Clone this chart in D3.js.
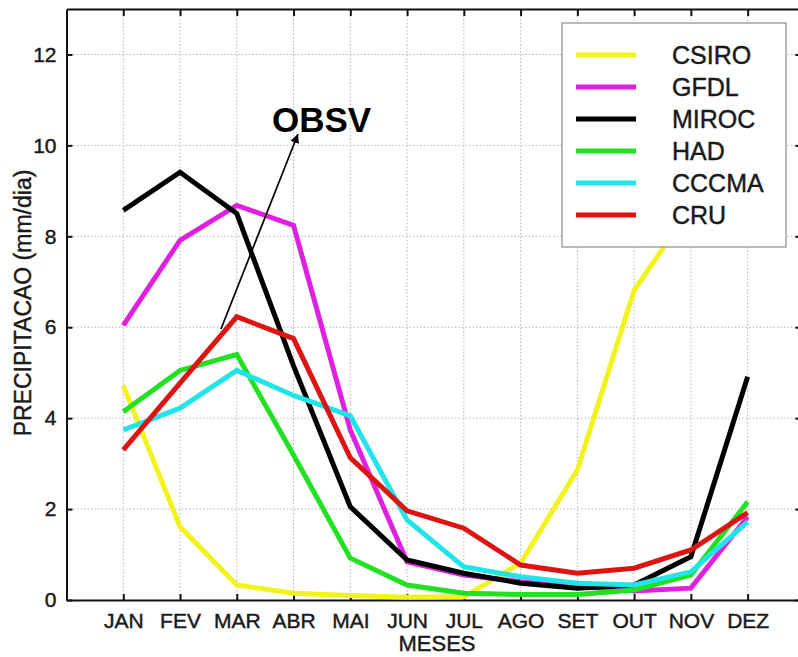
<!DOCTYPE html>
<html>
<head>
<meta charset="utf-8">
<script src="https://cdn.jsdelivr.net/npm/d3@7"></script>
<style>
  html, body { margin: 0; padding: 0; background: #fff; }
  svg { display: block; font-family: "Liberation Sans", Arial, Helvetica, sans-serif; }
  .lbl { fill: #1a1a1a; stroke: #1a1a1a; stroke-width: 0.45px; }
</style>
</head>
<body>
<svg id="chart" width="798" height="657"></svg>
<script>
// Monthly mean precipitation (mm/dia): five climate models and the CRU observations
const months = ["JAN", "FEV", "MAR", "ABR", "MAI", "JUN", "JUL", "AGO", "SET", "OUT", "NOV", "DEZ"];
const yTicks = [0, 2, 4, 6, 8, 10, 12];

const seriesNames = ["CSIRO", "GFDL", "MIROC", "HAD", "CCCMA", "CRU"];
const seriesColors = ["#f2f21c", "#e020e0", "#000000", "#22e022", "#22e4e8", "#dc1414"];

const csiro = [4.72, 1.61, 0.33, 0.15, 0.10, 0.06, 0.07, 0.81, 2.86, 6.81, 8.63, 9.20];
const gfdl  = [6.04, 7.91, 8.68, 8.24, 3.74, 0.84, 0.55, 0.40, 0.30, 0.20, 0.26, 1.83];
const miroc = [8.57, 9.41, 8.50, 5.15, 2.05, 0.88, 0.59, 0.37, 0.26, 0.33, 0.95, 4.91];
const had   = [4.14, 5.05, 5.40, 3.19, 0.92, 0.33, 0.15, 0.12, 0.12, 0.22, 0.55, 2.16];
const cccma = [3.74, 4.22, 5.05, 4.50, 4.05, 1.76, 0.73, 0.51, 0.37, 0.33, 0.62, 1.72];
const cru   = [3.30, 4.77, 6.23, 5.75, 3.13, 1.96, 1.58, 0.77, 0.59, 0.70, 1.10, 1.92];

const seriesValues = [csiro, gfdl, miroc, had, cccma, cru];

const svg = d3.select("#chart");

const x = d3.scaleLinear().domain([0, 13]).range([66.5, 804.4]);
const y = d3.scaleLinear().domain([0, 13]).range([600, 9]);

const monthPos = months.map((m, i) => i + 1);

// dotted grid
const grid = svg.append("g").attr("stroke", "#b5b5b5").attr("stroke-width", 1)
  .attr("stroke-dasharray", "1.5,2");
grid.selectAll("line.gx").data(monthPos).join("line")
  .attr("x1", d => x(d)).attr("x2", d => x(d))
  .attr("y1", y(13)).attr("y2", y(0));
grid.selectAll("line.gy").data(yTicks.filter(v => v > 0)).join("line")
  .attr("x1", x(0)).attr("x2", x(13))
  .attr("y1", d => y(d)).attr("y2", d => y(d));

// frame with inward ticks on all four sides
const xAxisB = d3.axisBottom(x).tickValues(monthPos).tickSizeInner(-6).tickSizeOuter(0)
  .tickFormat(d => months[d - 1]).tickPadding(13);
const xAxisT = d3.axisTop(x).tickValues(monthPos).tickSizeInner(-7).tickSizeOuter(0)
  .tickFormat("");
const yAxisL = d3.axisLeft(y).tickValues(yTicks).tickSizeInner(-6).tickSizeOuter(0)
  .tickPadding(10);
const yAxisR = d3.axisRight(y).tickValues(yTicks).tickSizeInner(-9).tickSizeOuter(0)
  .tickFormat("");

function styleAxis(g) {
  g.select(".domain").attr("stroke", "#111").attr("stroke-width", 2);
  g.selectAll(".tick line").attr("stroke", "#111").attr("stroke-width", 2);
  g.selectAll(".tick text").attr("class", "lbl")
    .style("font-family", "'Liberation Sans', Arial, sans-serif");
}

svg.append("g").attr("transform", `translate(0,${y(0)})`).call(xAxisB).call(styleAxis)
  .selectAll(".tick text").style("font-size", "21px");
svg.append("g").attr("transform", `translate(0,${y(13)})`).call(xAxisT).call(styleAxis);
svg.append("g").attr("transform", `translate(${x(0)},0)`).call(yAxisL).call(styleAxis)
  .selectAll(".tick text").style("font-size", "21px");
svg.append("g").attr("transform", `translate(${x(13)},0)`).call(yAxisR).call(styleAxis);

// series lines
const line = d3.line().x((d, i) => x(i + 1)).y(d => y(d));
svg.append("g").selectAll("path").data(seriesValues).join("path")
  .attr("d", d => line(d))
  .attr("fill", "none")
  .attr("stroke", (d, i) => seriesColors[i])
  .attr("stroke-width", 5)
  .attr("stroke-linejoin", "miter");

// legend
const lg = svg.append("g");
lg.append("rect").attr("x", 562).attr("y", 23).attr("width", 224).attr("height", 224)
  .attr("fill", "#fff").attr("stroke", "#8a8a8a").attr("stroke-width", 1.2);
const rowY = d3.scaleLinear().domain([0, 5]).range([55, 215]);
const items = lg.selectAll("g.item").data(seriesNames).join("g")
  .attr("transform", (d, i) => `translate(0,${rowY(i)})`);
items.append("line").attr("x1", 576).attr("x2", 636).attr("y1", 0).attr("y2", 0)
  .attr("stroke", (d, i) => seriesColors[i]).attr("stroke-width", 5);
items.append("text").attr("x", 672).attr("y", 9).text(d => d)
  .attr("class", "lbl").style("font-size", "25px");

// axis titles
svg.append("text").attr("x", 437).attr("y", 651).attr("text-anchor", "middle")
  .style("font-size", "22px").attr("class", "lbl").text("MESES");
svg.append("text").attr("transform", "translate(31,303) rotate(-90)").attr("text-anchor", "middle")
  .style("font-size", "23px").attr("class", "lbl").text("PRECIPITACAO (mm/dia)");

// annotation arrow pointing to the observed series
const defs = svg.append("defs");
defs.append("marker").attr("id", "head").attr("viewBox", "0 0 10 10")
  .attr("refX", 10).attr("refY", 5).attr("markerWidth", 9).attr("markerHeight", 10)
  .attr("markerUnits", "userSpaceOnUse").attr("orient", "auto")
  .append("path").attr("d", "M0,0 L10,5 L0,10 Z").attr("fill", "#000");
svg.append("line").attr("x1", 221).attr("y1", 329).attr("x2", 298).attr("y2", 134)
  .attr("stroke", "#000").attr("stroke-width", 1.7).attr("marker-end", "url(#head)");
svg.append("text").attr("x", 272).attr("y", 132).style("font-size", "35px")
  .style("font-weight", "bold").attr("fill", "#000").text("OBSV");
</script>
</body>
</html>
